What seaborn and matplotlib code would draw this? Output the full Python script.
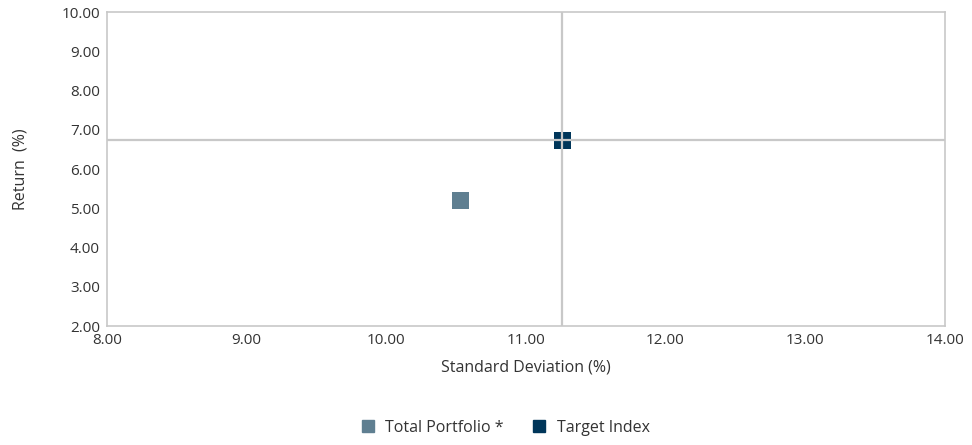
import pandas as pd
import matplotlib.pyplot as plt
import seaborn as sns

# data
names = ["Total Portfolio *", "Target Index"]
std_dev = [10.53, 11.26]
returns = [5.21, 6.74]
colors = ["#5f7f91", "#00365a"]

df = pd.DataFrame({"name": names, "sd": std_dev, "ret": returns})

sns.set_style("white")
plt.rcParams['font.family'] = ['Open Sans', 'DejaVu Sans']

fig = plt.figure(figsize=(9.72, 4.45), dpi=100)
ax = fig.add_axes([0.110, 0.267, 0.862, 0.706])

sns.scatterplot(data=df, x="sd", y="ret", hue="name", palette=colors,
                marker="s", s=150, linewidth=0, ax=ax, zorder=2, legend=False)

# crosshair through the benchmark
ax.axvline(std_dev[1], color="#c8c8c8", lw=1.6, zorder=3)
ax.axhline(returns[1], color="#c8c8c8", lw=1.6, zorder=3)

ax.set_xlim(8, 14)
ax.set_ylim(2, 10)
ax.set_xticks([8, 9, 10, 11, 12, 13, 14])
ax.set_yticks([2, 3, 4, 5, 6, 7, 8, 9, 10])
ax.xaxis.set_major_formatter(plt.FuncFormatter(lambda v, p: f"{v:.2f}"))
ax.yaxis.set_major_formatter(plt.FuncFormatter(lambda v, p: f"{v:.2f}"))
ax.tick_params(labelsize=11, colors="#333333", length=0, pad=5)
for s in ax.spines.values():
    s.set_color("#c8c8c8")
    s.set_linewidth(1.2)

ax.set_xlabel("Standard Deviation (%)", fontsize=11.5, color="#333333", labelpad=8)
ax.set_ylabel("Return  (%)", fontsize=11.5, color="#333333", labelpad=24)

handles = [plt.Line2D([], [], marker="s", ls="", color=c, markersize=9) for c in colors]
fig.legend(handles, names, loc="center", bbox_to_anchor=(0.515, 0.038), ncol=2,
           frameon=False, fontsize=11.5, handletextpad=0.1, columnspacing=1.2,
           labelcolor="#333333")

fig.savefig("out.png", dpi=100)
